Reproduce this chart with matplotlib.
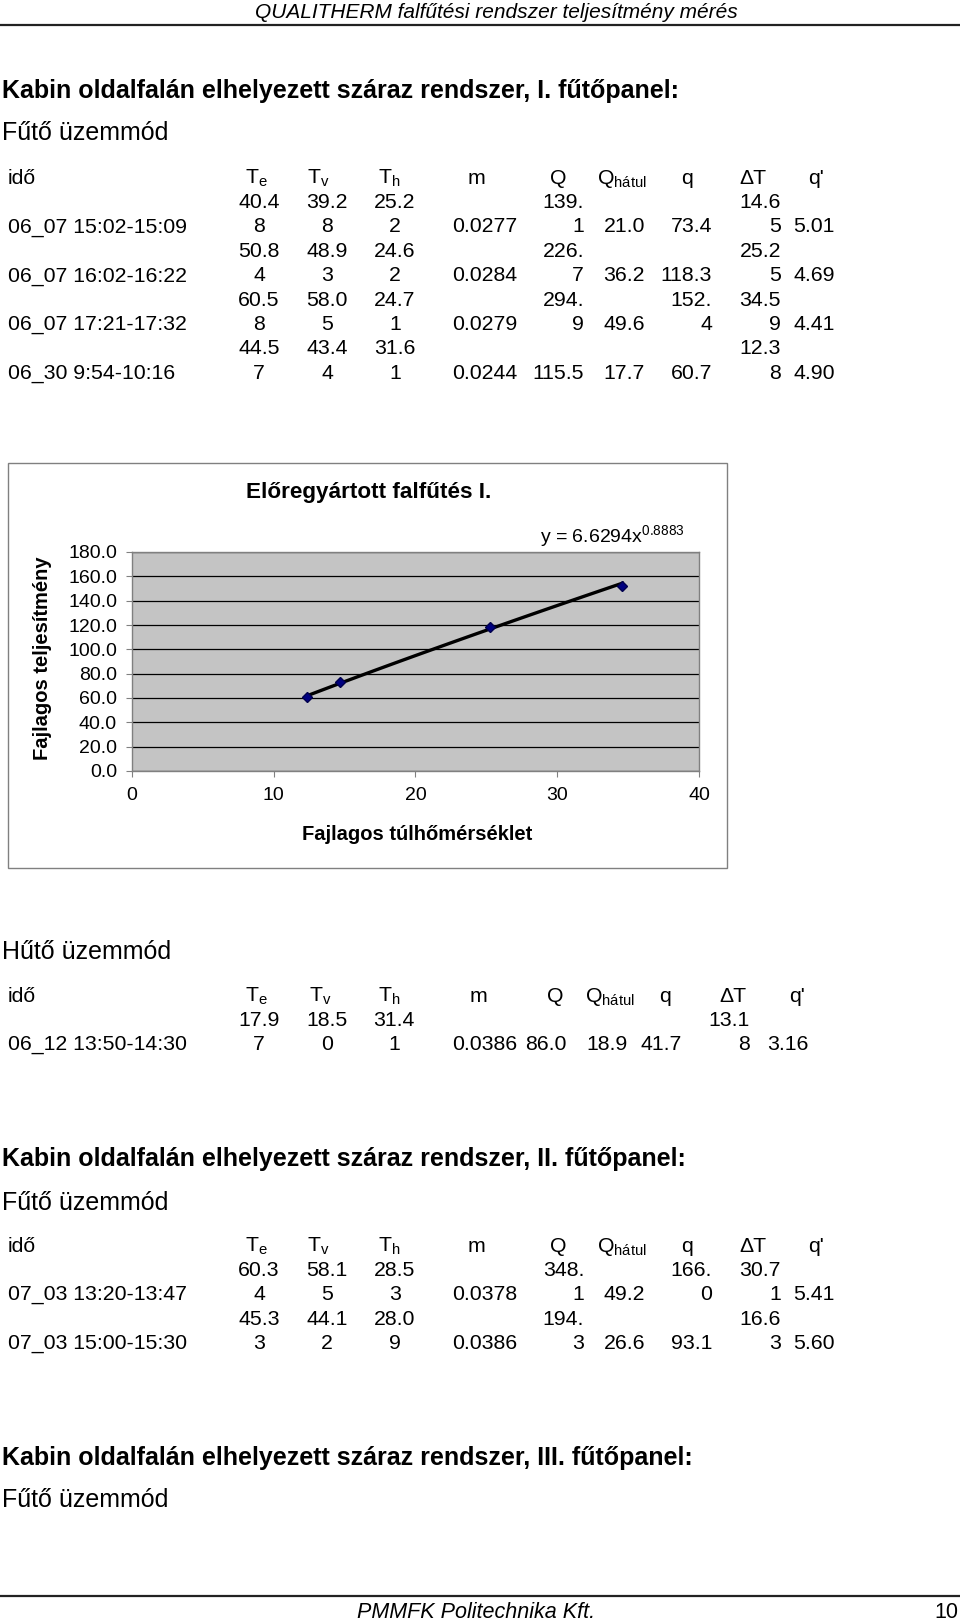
import matplotlib
matplotlib.use("Agg")
import matplotlib.pyplot as plt
import numpy as np
from matplotlib.patches import Rectangle

plt.rcParams["font.family"] = ["Liberation Sans", "DejaVu Sans"]
plt.rcParams["mathtext.fontset"] = "custom"
plt.rcParams["mathtext.rm"] = "Liberation Sans"
plt.rcParams["mathtext.it"] = "Liberation Sans:italic"
plt.rcParams["mathtext.bf"] = "Liberation Sans:bold"

# --- szovegek oldalon ---
page_header = "QUALITHERM falfűtési rendszer teljesítmény mérés"
page_footer = "PMMFK Politechnika Kft."
page_number = "10"
section_1 = "Kabin oldalfalán elhelyezett száraz rendszer, I. fűtőpanel:"
section_2 = "Kabin oldalfalán elhelyezett száraz rendszer, II. fűtőpanel:"
section_3 = "Kabin oldalfalán elhelyezett száraz rendszer, III. fűtőpanel:"
mode_heat = "Fűtő üzemmód"
mode_cool = "Hűtő üzemmód"

col_headers = [r"T$_\mathregular{e}$", r"T$_\mathregular{v}$", r"T$_\mathregular{h}$",
               "m", "Q", r"Q$_\mathregular{hátul}$", "q", "ΔT", "q'"]

# --- I. futopanel, futo uzemmod (\n = sortores a cellaban) ---
t1_time = ["06_07 15:02-15:09", "06_07 16:02-16:22", "06_07 17:21-17:32", "06_30 9:54-10:16"]
t1_te = ["40.4\n8", "50.8\n4", "60.5\n8", "44.5\n7"]
t1_tv = ["39.2\n8", "48.9\n3", "58.0\n5", "43.4\n4"]
t1_th = ["25.2\n2", "24.6\n2", "24.7\n1", "31.6\n1"]
t1_m = ["0.0277", "0.0284", "0.0279", "0.0244"]
t1_q_tot = ["139.\n1", "226.\n7", "294.\n9", "115.5"]
t1_q_back = ["21.0", "36.2", "49.6", "17.7"]
t1_q = ["73.4", "118.3", "152.\n4", "60.7"]
t1_dt = ["14.6\n5", "25.2\n5", "34.5\n9", "12.3\n8"]
t1_qs = ["5.01", "4.69", "4.41", "4.90"]

# --- I. futopanel, huto uzemmod ---
t2_time = ["06_12 13:50-14:30"]
t2_te = ["17.9\n7"]
t2_tv = ["18.5\n0"]
t2_th = ["31.4\n1"]
t2_m = ["0.0386"]
t2_q_tot = ["86.0"]
t2_q_back = ["18.9"]
t2_q = ["41.7"]
t2_dt = ["13.1\n8"]
t2_qs = ["3.16"]

# --- II. futopanel, futo uzemmod ---
t3_time = ["07_03 13:20-13:47", "07_03 15:00-15:30"]
t3_te = ["60.3\n4", "45.3\n3"]
t3_tv = ["58.1\n5", "44.1\n2"]
t3_th = ["28.5\n3", "28.0\n9"]
t3_m = ["0.0378", "0.0386"]
t3_q_tot = ["348.\n1", "194.\n3"]
t3_q_back = ["49.2", "26.6"]
t3_q = ["166.\n0", "93.1"]
t3_dt = ["30.7\n1", "16.6\n3"]
t3_qs = ["5.41", "5.60"]

# --- diagram ---
chart_title = "Előregyártott falfűtés I."
chart_xlabel = "Fajlagos túlhőmérséklet"
chart_ylabel = "Fajlagos teljesítmény"
trend_text = r"y = 6.6294x$^{\mathregular{0.8883}}$"
x_ticks = [0, 10, 20, 30, 40]
y_ticks = [0, 20, 40, 60, 80, 100, 120, 140, 160, 180]

W, H = 960, 1620
fig = plt.figure(figsize=(W / 100, H / 100), dpi=100)
page = fig.add_axes([0, 0, 1, 1])
page.set_xlim(0, W)
page.set_ylim(H, 0)
page.axis("off")

TS = 15.3  # betumeret a tablazatban


def put(x, yc, s, size=TS, ha="left", **kw):
    # yc = nagybetuk kozepe pixelben, innen szamoljuk az alapvonalat
    page.text(x, yc + 0.5 * size, s, fontsize=size, ha=ha, va="baseline", **kw)


def draw_table(y0, step, times, cols, head_x, col_x, col_ha):
    put(8, y0, "idő")
    for hx, h in zip(head_x, col_headers):
        put(hx, y0, h, ha="center")
    for i, t in enumerate(times):
        y_top = y0 + step * (2 * i + 1)
        y_bot = y0 + step * (2 * i + 2)
        put(8, y_bot, t)
        for vals, x, ha in zip(cols, col_x, col_ha):
            parts = vals[i].split("\n")
            if len(parts) == 2:
                put(x, y_top, parts[0], ha=ha)
                put(x, y_bot, parts[1], ha=ha)
            else:
                put(x, y_bot, parts[0], ha=ha)


ha_cols = ["center"] * 3 + ["right"] * 6
head_a = [256, 318, 389, 476, 558, 622, 687, 753, 816]
cols_a = [259, 327, 395, 517, 584, 645, 712, 781, 835]
head_b = [256, 320, 389, 478, 555, 610, 665, 733, 797]
cols_b = [259, 327, 394, 517, 567, 628, 682, 750, 808]

# fejlec / lablec
put(496, 11, page_header, size=15, ha="center", fontstyle="italic")
page.plot([0, W], [25, 25], color="#222222", lw=1.6, solid_capstyle="butt")
page.plot([0, W], [1596, 1596], color="#222222", lw=1.6, solid_capstyle="butt")
put(476, 1610, page_footer, size=15.5, ha="center", fontstyle="italic")
put(958, 1610, page_number, size=15.5, ha="right")

# I. panel
put(2, 89, section_1, size=18, fontweight="bold")
put(2, 131, mode_heat, size=18)
draw_table(176, 24.4, t1_time,
           [t1_te, t1_tv, t1_th, t1_m, t1_q_tot, t1_q_back, t1_q, t1_dt, t1_qs],
           head_a, cols_a, ha_cols)

# huto uzemmod
put(2, 950, mode_cool, size=18)
draw_table(994, 24.0, t2_time,
           [t2_te, t2_tv, t2_th, t2_m, t2_q_tot, t2_q_back, t2_q, t2_dt, t2_qs],
           head_b, cols_b, ha_cols)

# II. panel
put(2, 1157, section_2, size=18, fontweight="bold")
put(2, 1201, mode_heat, size=18)
draw_table(1244, 24.3, t3_time,
           [t3_te, t3_tv, t3_th, t3_m, t3_q_tot, t3_q_back, t3_q, t3_dt, t3_qs],
           head_a, cols_a, ha_cols)

# III. panel
put(2, 1456, section_3, size=18, fontweight="bold")
put(2, 1498, mode_heat, size=18)

# --- diagram: q (fajlagos teljesitmeny) vs dT (tulhomerseklet) ---
page.add_patch(Rectangle((8, 463), 719, 405, fill=False, edgecolor="#808080", lw=1))
px0, px1, py0, py1 = 132, 699, 552, 771
ax = fig.add_axes([px0 / W, 1 - py1 / H, (px1 - px0) / W, (py1 - py0) / H])
ax.set_facecolor("#C4C4C4")

dt_vals = np.array([float(s.replace("\n", "")) for s in t1_dt])
q_vals = np.array([float(s.replace("\n", "")) for s in t1_q])

# hatvanyfuggveny illesztese (trendvonal)
b, log_a = np.polyfit(np.log(dt_vals), np.log(q_vals), 1)
xs = np.linspace(dt_vals.min(), dt_vals.max(), 100)
ax.plot(xs, np.exp(log_a) * xs ** b, color="black", lw=2.4, zorder=3)
ax.plot(dt_vals, q_vals, ls="none", marker="D", ms=5.6,
        color="#000080", mec="#00004d", zorder=4)

ax.set_xlim(0, 40)
ax.set_ylim(0, 180)
ax.set_xticks(x_ticks)
ax.set_yticks(y_ticks)
ax.set_yticklabels([f"{v:.1f}" for v in y_ticks])
ax.yaxis.grid(True, color="black", lw=0.9)
ax.set_axisbelow(True)
for sp in ax.spines.values():
    sp.set_color("#808080")
    sp.set_linewidth(1)
ax.tick_params(axis="y", length=4.3, pad=6.5, color="#808080", labelsize=14)
ax.tick_params(axis="x", length=4.3, pad=7.5, color="#808080", labelsize=14)

put(369, 490, chart_title, size=16.2, ha="center", fontweight="bold")
put(540, 535, trend_text, size=14)
put(417, 833, chart_xlabel, size=14.5, ha="center", fontweight="bold")
page.text(43, 658, chart_ylabel, fontsize=14.5, fontweight="bold",
          rotation=90, ha="center", va="center")

fig.savefig("out.png", dpi=100)
plt.close(fig)
